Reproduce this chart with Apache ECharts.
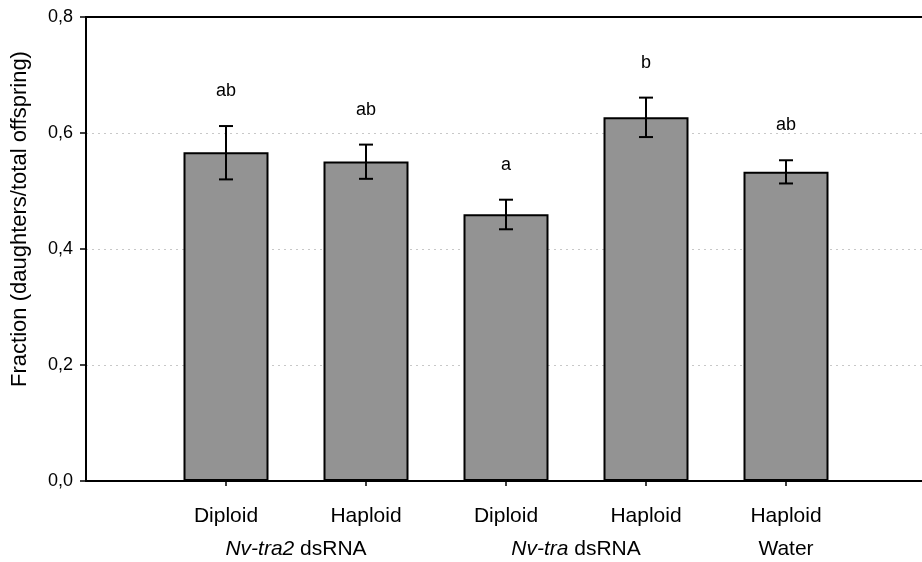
<!DOCTYPE html>
<html>
<head>
<meta charset="utf-8">
<script src="https://cdn.jsdelivr.net/npm/echarts@6/dist/echarts.min.js"></script>
<style>html,body{margin:0;padding:0;background:#fff;overflow:hidden;}#c{width:930px;height:562px;}</style>
</head>
<body>
<div id="c"></div>
<script>
var categories = ['Diploid', 'Haploid', 'Diploid', 'Haploid', 'Haploid'];
var means = [0.567, 0.551, 0.460, 0.627, 0.533];
var errLow = [0.520, 0.521, 0.434, 0.593, 0.513];
var errHigh = [0.612, 0.580, 0.485, 0.661, 0.553];
var letters = ['ab', 'ab', 'a', 'b', 'ab'];
var groupNames = ['{i|Nv-tra2} dsRNA', '{i|Nv-tra} dsRNA', 'Water'];
var groupFrom = [1, 3, 5];
var groupTo = [2, 4, 5];
var yTicks = [0, 0.2, 0.4, 0.6, 0.8];

var FONT = 'Liberation Sans, Arial, sans-serif';
var axisCats = [''].concat(categories).concat(['']);

var chart = echarts.init(document.getElementById('c'), null, {renderer: 'canvas'});
var option = {
  backgroundColor: '#fff',
  animation: false,
  grid: {left: 86, top: 17, width: 840, bottom: 81, show: false},
  xAxis: [{
    type: 'category', data: axisCats, boundaryGap: false,
    axisLine: {lineStyle: {color: '#000', width: 2}},
    axisTick: {show: true, length: 5, lineStyle: {color: '#000', width: 1.5}, interval: function (i) { return i > 0 && i < axisCats.length - 1; }},
    axisLabel: {color: '#000', fontSize: 21, fontFamily: FONT, margin: 25, interval: 0},
    splitLine: {show: false}
  }, {
    type: 'category', data: axisCats, boundaryGap: false, position: 'top',
    axisLine: {show: true, lineStyle: {color: '#000', width: 2}},
    axisTick: {show: false}, axisLabel: {show: false}, splitLine: {show: false}
  }],
  yAxis: {
    type: 'value', min: yTicks[0], max: yTicks[yTicks.length - 1], interval: 0.2,
    axisLine: {show: true, lineStyle: {color: '#000', width: 2}},
    axisTick: {show: true, length: 6, lineStyle: {color: '#000', width: 1.5}},
    axisLabel: {color: '#000', fontSize: 18, fontFamily: FONT, margin: 13,
      formatter: function (v) { return v.toFixed(1).replace('.', ','); }},
    splitLine: {show: true, lineStyle: {color: '#c8c8c8', type: [2, 4], width: 1}}
  },
  graphic: [{
    type: 'text', rotation: Math.PI / 2,
    style: {text: 'Fraction (daughters/total offspring)', fill: '#000', font: '22px ' + FONT, textAlign: 'center', textVerticalAlign: 'middle'},
    x: 20, y: 219
  }],
  series: [
    {
      type: 'bar',
      data: means.map(function (v, i) { return [i + 1, v]; }),
      barWidth: 85,
      itemStyle: {color: '#939393', borderColor: '#000', borderWidth: 2},
      z: 2
    },
    {
      type: 'custom',
      data: means.map(function (v, i) { return [i + 1, errLow[i], errHigh[i]]; }),
      renderItem: function (params, api) {
        var x = api.value(0);
        var lo = api.coord([x, api.value(1)]);
        var hi = api.coord([x, api.value(2)]);
        var hw = 7;
        var st = {stroke: '#000', lineWidth: 2};
        return {
          type: 'group',
          children: [
            {type: 'line', shape: {x1: lo[0], y1: lo[1], x2: hi[0], y2: hi[1]}, style: st},
            {type: 'line', shape: {x1: lo[0] - hw, y1: lo[1], x2: lo[0] + hw, y2: lo[1]}, style: st},
            {type: 'line', shape: {x1: hi[0] - hw, y1: hi[1], x2: hi[0] + hw, y2: hi[1]}, style: st},
            {type: 'text', x: hi[0], y: hi[1] - 35,
              style: {text: letters[params.dataIndex], fill: '#000', font: '18px ' + FONT, textAlign: 'center', textVerticalAlign: 'middle'}}
          ]
        };
      },
      z: 5
    },
    {
      type: 'custom',
      clip: false,
      data: groupNames.map(function (n, i) { return [groupFrom[i], groupTo[i]]; }),
      renderItem: function (params, api) {
        var a = api.coord([api.value(0), 0]);
        var b = api.coord([api.value(1), 0]);
        return {
          type: 'text', x: (a[0] + b[0]) / 2, y: a[1] + 68,
          style: {
            text: groupNames[params.dataIndex], fill: '#000', fontSize: 21, fontFamily: FONT,
            align: 'center', verticalAlign: 'middle',
            rich: {i: {fontStyle: 'italic', fontSize: 21, fontFamily: FONT, fill: '#000'}}
          }
        };
      },
      z: 5
    }
  ]
};
chart.setOption(option);
</script>
</body>
</html>
